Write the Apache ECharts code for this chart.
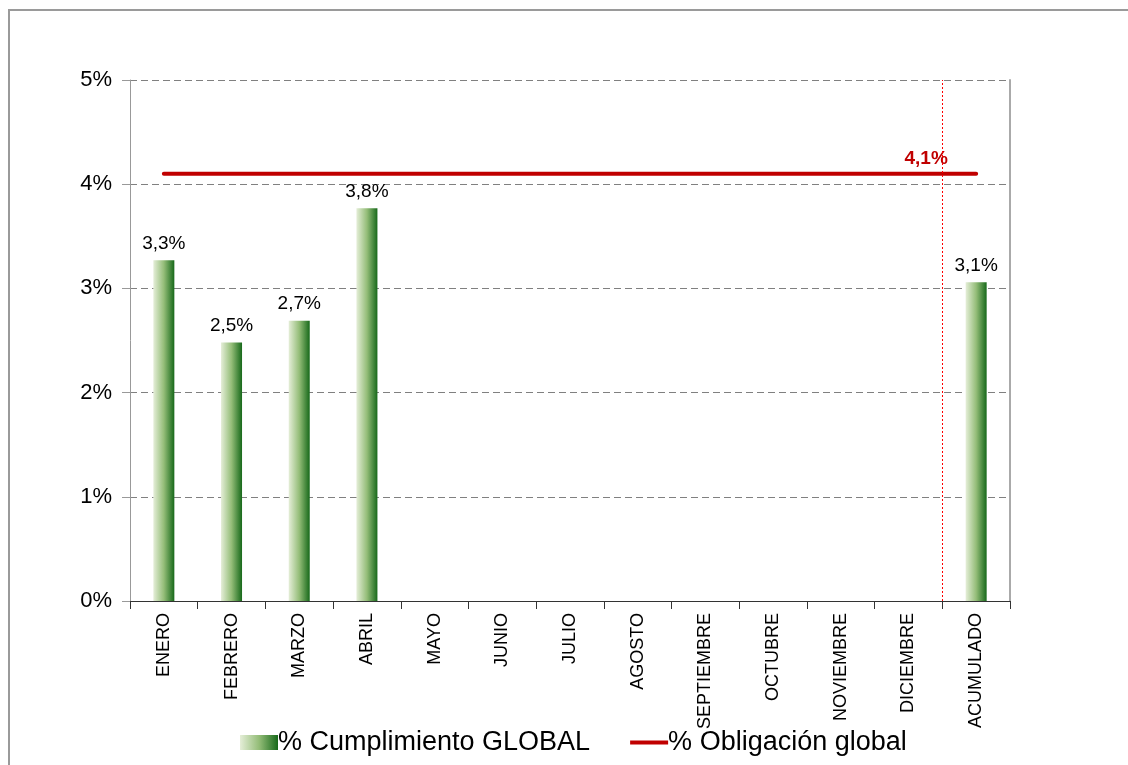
<!DOCTYPE html>
<html><head><meta charset="utf-8">
<script src="https://cdn.jsdelivr.net/npm/echarts@6/dist/echarts.min.js"></script>
<style>html,body{margin:0;padding:0;background:#fff}#c{width:1128px;height:765px}</style>
</head><body><div id="c"></div>
<script>
const categories = ['ENERO','FEBRERO','MARZO','ABRIL','MAYO','JUNIO','JULIO','AGOSTO','SEPTIEMBRE','OCTUBRE','NOVIEMBRE','DICIEMBRE','ACUMULADO'];
const cumplimiento = [3.27, 2.48, 2.69, 3.77, null, null, null, null, null, null, null, null, 3.06];
const obligacion = [4.1, 4.1, 4.1, 4.1, 4.1, 4.1, 4.1, 4.1, 4.1, 4.1, 4.1, 4.1, 4.1];
const separatorAt = [12];
const yTicks = [0, 1, 2, 3, 4, 5];

const fmt = v => v.toFixed(1).replace('.', ',') + '%';
const barGrad = new echarts.graphic.LinearGradient(0, 0, 1, 0, [
  {offset: 0, color: '#e5eed8'}, {offset: 0.5, color: '#94bd78'}, {offset: 1, color: '#17691a'}
]);
const font = 'Liberation Sans, Arial, sans-serif';
const chart = echarts.init(document.getElementById('c'));
chart.setOption({
  animation: false,
  textStyle: {fontFamily: font},
  graphic: [{type: 'rect', z: -10, shape: {x: 9, y: 10, width: 1200, height: 800},
    style: {fill: 'none', stroke: '#9a9a9a', lineWidth: 2}}],
  grid: {left: 130, right: 118, top: 80, bottom: 164},
  legend: {
    bottom: 4, left: 235, itemGap: 40, itemWidth: 38, itemHeight: 15,
    textStyle: {fontSize: 27, color: '#000', fontFamily: font, padding: [0, 0, 0, -5]},
    data: [
      {name: '% Cumplimiento GLOBAL', icon: 'rect'},
      {name: '% Obligación global', icon: 'path://M0,0 L40,0 L40,4 L0,4 Z',
        itemStyle: {color: '#c00000', opacity: 1}}
    ]
  },
  xAxis: [{
    type: 'category', data: categories,
    axisLine: {lineStyle: {color: '#333', width: 1}},
    axisTick: {show: true, length: 8, lineStyle: {color: '#333'}, alignWithLabel: false},
    axisLabel: {rotate: 90, fontSize: 18, color: '#000', margin: 12, fontFamily: font, interval: 0},
    splitLine: {show: false}
  }, {
    type: 'value', min: 0, max: 13, show: false
  }],
  yAxis: [{
    type: 'value', min: 0, max: 5, interval: 1,
    axisLine: {show: true, lineStyle: {color: '#999'}},
    axisTick: {show: true, length: 8, lineStyle: {color: '#999'}},
    axisLabel: {fontSize: 22, color: '#000', margin: 18, formatter: v => yTicks.includes(v) ? v + '%' : ''},
    splitLine: {show: true, lineStyle: {color: '#808080', type: [7, 4], width: 1}}
  }, {
    type: 'value', min: 0, max: 5, interval: 1, position: 'right',
    axisLine: {show: true, lineStyle: {color: '#aaa', width: 2}},
    axisTick: {show: false}, axisLabel: {show: false}, splitLine: {show: false}
  }],
  series: [{
    name: '% Cumplimiento GLOBAL', type: 'bar', data: cumplimiento, barWidth: 21,
    itemStyle: {color: barGrad},
    label: {show: true, position: 'top', fontSize: 19, color: '#000', distance: 7,
      formatter: p => p.value == null ? '' : fmt(p.value)}
  }, {
    name: '% Obligación global', type: 'line', data: obligacion,
    symbol: 'circle', symbolSize: 1, showSymbol: true,
    lineStyle: {color: '#c00000', width: 4, cap: 'round'}, itemStyle: {color: '#c00000', opacity: 0},
    label: {show: true, position: 'top', fontSize: 19, fontWeight: 'bold', color: '#c00000',
      offset: [-50, 0], opacity: 1,
      formatter: p => p.dataIndex === obligacion.length - 1 ? fmt(p.value) : ''}
  }, {
    type: 'line', xAxisIndex: 1, data: [], silent: true,
    markLine: {symbol: 'none', label: {show: false}, silent: true,
      lineStyle: {color: '#ff0000', type: [2, 2], width: 1},
      data: separatorAt.map(v => ({xAxis: v}))}
  }]
});
</script></body></html>
